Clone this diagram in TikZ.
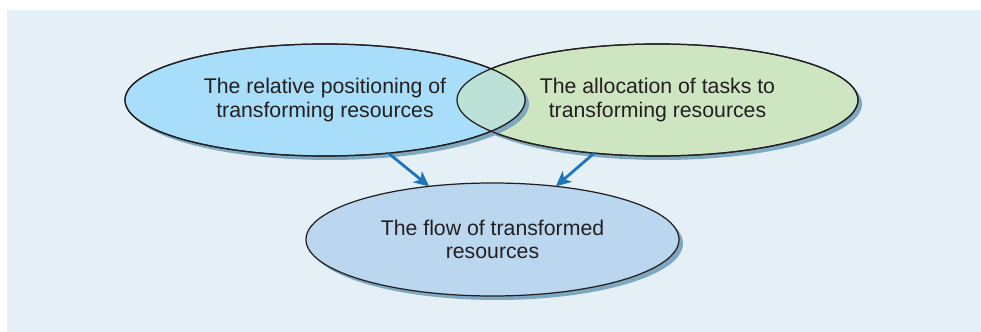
\documentclass[tikz,border=0pt]{standalone}
\usepackage{fontspec}
\setmainfont{Liberation Sans}
\usetikzlibrary{shapes.geometric,shadows,arrows.meta}
\definecolor{panelbg}{HTML}{E4EFF6}
\definecolor{bluefill}{HTML}{A9DEFA}
\definecolor{greenfill}{HTML}{CDE5C0}
\definecolor{overlapfill}{HTML}{BCE2D8}
\definecolor{flowfill}{HTML}{BBD7F0}
\definecolor{shadowblue}{HTML}{7EA8BF}
\definecolor{arrowblue}{HTML}{1C75BC}
\definecolor{outline}{HTML}{231F20}
\definecolor{textgray}{HTML}{231F20}
\begin{document}
\begin{tikzpicture}[font=\fontsize{12.1}{13.1}\selectfont, line width=0.7pt,
    zone/.style={ellipse, draw=outline, inner sep=0pt, outer sep=0pt,
        align=center, text=textgray,
        drop shadow={shadow xshift=0.08cm, shadow yshift=-0.08cm,
            fill=shadowblue, opacity=1}},
    flowarrow/.style={-{Stealth[length=0.3cm, width=0.28cm, inset=0.08cm]},
        draw=arrowblue, line width=1.6pt}]
    \useasboundingbox (0,0) rectangle (19.62,6.64);
    \fill[panelbg] (0.14,0) rectangle (19.62,6.44);
    \node[zone, fill=greenfill, minimum width=8.02cm, minimum height=2.24cm]
    (alloc) at (13.15,4.64) {The allocation of tasks to\\transforming resources};
    \node[zone, fill=bluefill, minimum width=8.0cm, minimum height=2.24cm]
    (posn) at (6.5,4.64) {The relative positioning of\\transforming resources};
    % overlap of the two upper zones
    \begin{scope}
        \clip (posn.center) ellipse [x radius=4cm, y radius=1.12cm];
        \fill[overlapfill] (alloc.center) ellipse [x radius=4.01cm, y radius=1.12cm];
    \end{scope}
    \draw[outline] (posn.center) ellipse [x radius=4cm, y radius=1.12cm];
    \draw[outline] (alloc.center) ellipse [x radius=4.01cm, y radius=1.12cm];
    \node[zone, fill=flowfill, minimum width=7.46cm, minimum height=2.26cm]
    (flow) at (9.85,1.85) {The flow of transformed\\resources};
    \draw[flowarrow] (posn.-40) -- (flow.140);
    \draw[flowarrow] (alloc.-140) -- (flow.40);
\end{tikzpicture}
\end{document}
